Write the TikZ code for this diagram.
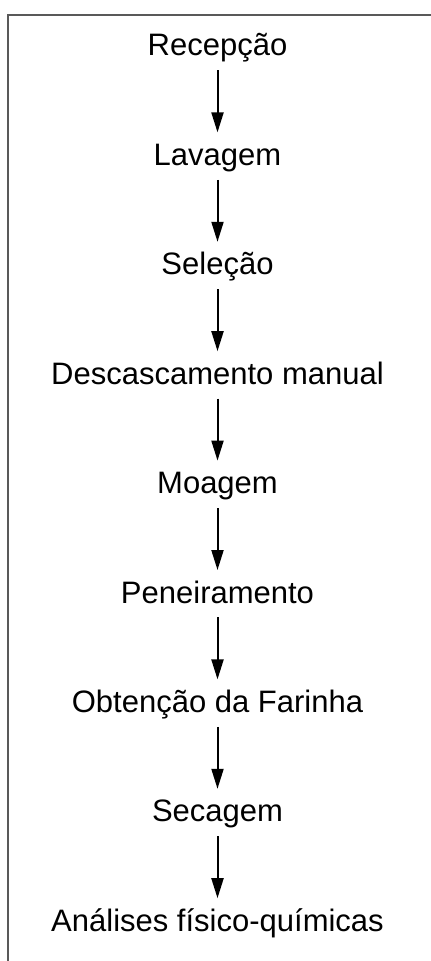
\documentclass[tikz,border=0pt]{standalone}
\usepackage{fontspec}
\setmainfont{Liberation Sans}
\usetikzlibrary{positioning,arrows.meta}
\tikzset{
stepnode/.style={
  inner sep=0pt,
  text height=11.5pt,
  text depth=3.5pt,
  font=\fontsize{15.5}{18}\selectfont
},
flow/.style={
  -{Triangle[length=10pt,width=6pt]},
  line width=1pt,
  shorten <=3.5pt,
  shorten >=4.8pt
},
}

\begin{document}
\begin{tikzpicture}[node distance=39.3pt]
            \useasboundingbox (0,0) rectangle (215.5pt,-480.5pt);
            \draw[line width=0.7pt, black!65] (4pt,-480.5pt) |- (215.5pt,-7.5pt);

            \node[stepnode, anchor=base] (recepcao) at (108.75pt,-28pt) {Recepção};
            \node[stepnode, below=of recepcao] (lavagem)  {Lavagem};
            \node[stepnode, below=of lavagem]  (selecao)  {Seleção};
            \node[stepnode, below=of selecao]  (descasc)  {Descascamento manual};
            \node[stepnode, below=of descasc]  (moagem)   {Moagem};
            \node[stepnode, below=of moagem]   (peneir)   {Peneiramento};
            \node[stepnode, below=of peneir]   (obtencao) {Obtenção da Farinha};
            \node[stepnode, below=of obtencao] (secagem)  {Secagem};
            \node[stepnode, below=of secagem]  (analises) {Análises físico-químicas};

            \draw[flow] (recepcao) -- (lavagem);
            \draw[flow] (lavagem)  -- (selecao);
            \draw[flow] (selecao)  -- (descasc);
            \draw[flow] (descasc)  -- (moagem);
            \draw[flow] (moagem)   -- (peneir);
            \draw[flow] (peneir)   -- (obtencao);
            \draw[flow] (obtencao) -- (secagem);
            \draw[flow] (secagem)  -- (analises);
        \end{tikzpicture}
\end{document}
